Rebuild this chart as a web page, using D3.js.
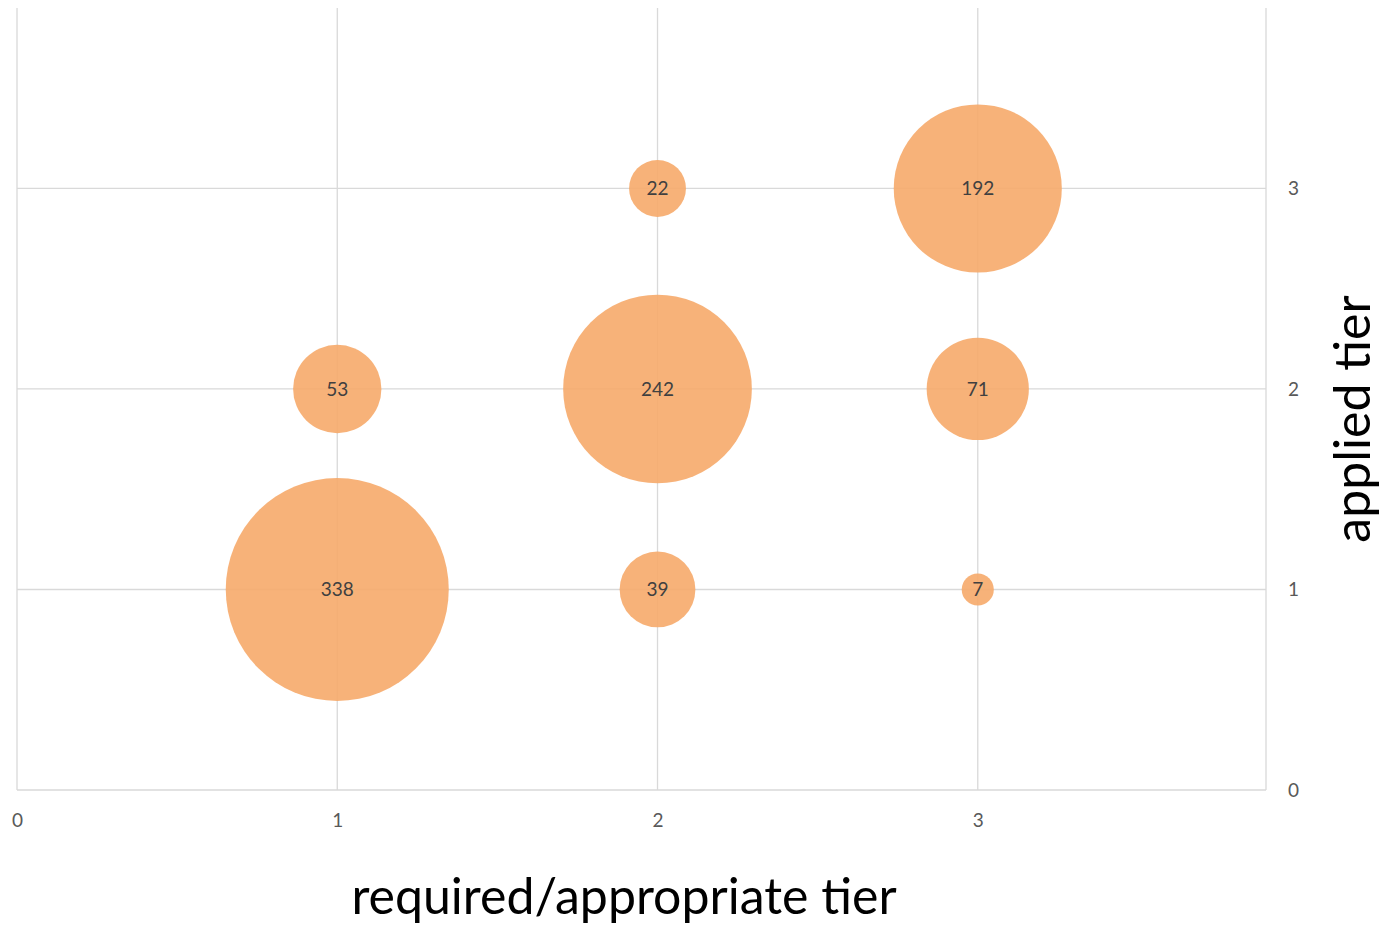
<!DOCTYPE html>
<html>
<head>
<meta charset="utf-8">
<script src="https://cdn.jsdelivr.net/npm/d3@7"></script>
<style>
    body { margin: 0; background: #fff; }
    .grid line { stroke: #d9d9d9; stroke-width: 1.3; }
    .tick text { fill: #595959; font-family: Lato, "Open Sans", sans-serif; font-size: 19px; }
    .bubbleLabel { fill: #404040; font-family: Lato, "Open Sans", sans-serif; font-size: 19px; }
    .axisTitle { fill: #000; font-family: Lato, "Open Sans", sans-serif; font-size: 50px; }
</style>
</head>
<body>
<script>
(function(){

    //bubble data: required tier (x), applied tier (y), count (size)
    var requiredTier = [1, 1, 2, 2, 2, 3, 3, 3];
    var appliedTier  = [1, 2, 1, 2, 3, 1, 2, 3];
    var counts       = [338, 53, 39, 242, 22, 7, 71, 192];

    var xTicks = [0, 1, 2, 3];
    var yTicks = [0, 1, 2, 3];

    window.onload = setChart();

    function setChart(){
        var width = 1383,
            height = 930;

        var svg = d3.select("body")
            .append("svg")
            .attr("width", width)
            .attr("height", height);

        //scales
        var xScale = d3.scaleLinear()
            .domain([0, 3.9])
            .range([17, 1266]);

        var yScale = d3.scaleLinear()
            .domain([0, 3.9])
            .range([790, 8]);

        var rScale = d3.scaleSqrt()
            .domain([0, 338])
            .range([0, 111.5]);

        //gridlines
        var grid = svg.append("g").attr("class", "grid");

        grid.selectAll(".vline")
            .data(xTicks.concat([3.9]))
            .enter()
            .append("line")
            .attr("x1", function(d){ return xScale(d); })
            .attr("x2", function(d){ return xScale(d); })
            .attr("y1", yScale(3.9))
            .attr("y2", yScale(0));

        grid.selectAll(".hline")
            .data(yTicks)
            .enter()
            .append("line")
            .attr("x1", xScale(0))
            .attr("x2", xScale(3.9))
            .attr("y1", function(d){ return yScale(d); })
            .attr("y2", function(d){ return yScale(d); });

        //axes (labels only)
        var xAxis = d3.axisBottom(xScale)
            .tickValues(xTicks)
            .tickFormat(d3.format("d"))
            .tickSize(0)
            .tickPadding(24);

        svg.append("g")
            .attr("class", "axis")
            .attr("transform", "translate(0," + yScale(0) + ")")
            .call(xAxis)
            .call(function(g){ g.select(".domain").remove(); });

        var yAxis = d3.axisRight(yScale)
            .tickValues(yTicks)
            .tickFormat(d3.format("d"))
            .tickSize(0)
            .tickPadding(22);

        svg.append("g")
            .attr("class", "axis")
            .attr("transform", "translate(" + xScale(3.9) + ",0)")
            .call(yAxis)
            .call(function(g){ g.select(".domain").remove(); });

        //bubbles
        var data = counts.map(function(c, i){
            return { x: requiredTier[i], y: appliedTier[i], n: c };
        });

        svg.selectAll(".bubble")
            .data(data)
            .enter()
            .append("circle")
            .attr("class", "bubble")
            .attr("cx", function(d){ return xScale(d.x); })
            .attr("cy", function(d){ return yScale(d.y); })
            .attr("r", function(d){ return rScale(d.n); })
            .style("fill", "#f6aa6a")
            .style("fill-opacity", 0.9);

        svg.selectAll(".bubbleLabel")
            .data(data)
            .enter()
            .append("text")
            .attr("class", "bubbleLabel")
            .attr("x", function(d){ return xScale(d.x); })
            .attr("y", function(d){ return yScale(d.y); })
            .attr("dy", "0.35em")
            .attr("text-anchor", "middle")
            .text(function(d){ return d.n; });

        //axis titles
        svg.append("text")
            .attr("class", "axisTitle")
            .attr("x", 624)
            .attr("y", 914)
            .attr("text-anchor", "middle")
            .text("required/appropriate tier");

        svg.append("text")
            .attr("class", "axisTitle")
            .attr("transform", "translate(1370,419) rotate(-90)")
            .attr("text-anchor", "middle")
            .text("applied tier");
    };
})();
</script>
</body>
</html>
